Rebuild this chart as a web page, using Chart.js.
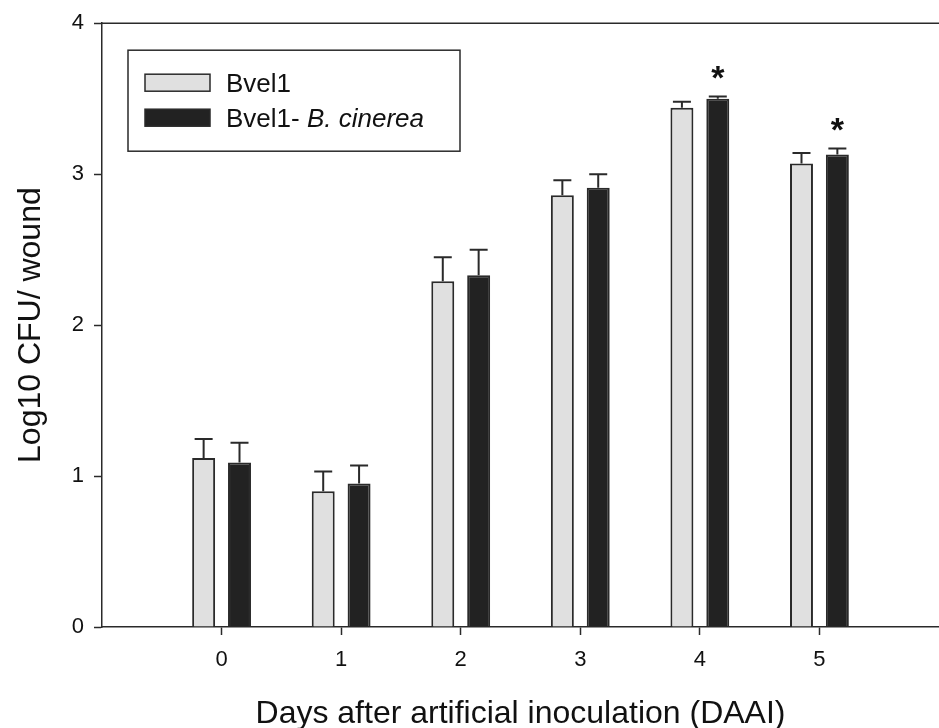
<!DOCTYPE html>
<html>
<head>
<meta charset="utf-8">
<title>Log10 CFU per wound</title>
<script src="https://cdn.jsdelivr.net/npm/chart.js@4/dist/chart.umd.min.js"></script>
<style>
  html, body { margin: 0; padding: 0; background: #fff; overflow: hidden; }
  canvas { display: block; }
</style>
</head>
<body>
<canvas id="barChart" width="939" height="728"></canvas>
<script>
// days after artificial inoculation
let days = ['0', '1', '2', '3', '4', '5'];
// log10 CFU / wound
let bvel1 = [1.12, 0.90, 2.29, 2.86, 3.44, 3.07];
let bvel1Err = [0.125, 0.13, 0.16, 0.10, 0.04, 0.07];
let bvel1Bc = [1.09, 0.95, 2.33, 2.91, 3.50, 3.13];
let bvel1BcErr = [0.13, 0.12, 0.17, 0.09, 0.015, 0.04];
// asterisks over the Bvel1- B. cinerea bars
let significant = [false, false, false, false, true, true];
let yTicks = [0, 1, 2, 3, 4];
// legend names, second part drawn in italics
let seriesNames = ['Bvel1', 'Bvel1- '];
let seriesItalic = ['', 'B. cinerea'];

let FONT = '"Liberation Sans", Arial, Helvetica, sans-serif';
Chart.defaults.font.family = FONT;
Chart.defaults.font.size = 22;
Chart.defaults.color = '#111';

// empty slot on each side of the days, like the original axis
let labels = [''].concat(days, ['']);
let pad = arr => [null].concat(arr, [null]);

let errorBars = {
    id: 'errorBars',
    afterDatasetsDraw(chart) {
        let ctx = chart.ctx;
        let yScale = chart.scales.y;
        ctx.save();
        ctx.strokeStyle = '#2a2a2a';
        ctx.lineWidth = 2;
        chart.data.datasets.forEach((ds, i) => {
            chart.getDatasetMeta(i).data.forEach((bar, j) => {
                let v = ds.data[j];
                if (v == null) return;
                let top = yScale.getPixelForValue(v + ds.errors[j]);
                ctx.beginPath();
                ctx.moveTo(bar.x, bar.y);
                ctx.lineTo(bar.x, top);
                ctx.moveTo(bar.x - 9, top);
                ctx.lineTo(bar.x + 9, top);
                ctx.stroke();
                if (ds.stars && ds.stars[j]) {
                    ctx.fillStyle = '#111';
                    ctx.font = 'bold 34px ' + FONT;
                    ctx.textAlign = 'center';
                    ctx.textBaseline = 'alphabetic';
                    ctx.fillText('*', bar.x, top - 7);
                }
            });
        });
        ctx.restore();
    }
};

// boxed legend inside the plot + top frame line
let boxLegend = {
    id: 'boxLegend',
    afterDraw(chart) {
        let ctx = chart.ctx;
        let area = chart.chartArea;
        ctx.save();
        ctx.strokeStyle = '#2a2a2a';
        ctx.lineWidth = 1.5;
        ctx.beginPath();
        ctx.moveTo(area.left, area.top);
        ctx.lineTo(area.right, area.top);
        ctx.stroke();

        let x0 = area.left + 26, y0 = area.top + 27;
        ctx.strokeRect(x0, y0, 332, 101);
        let font = '26px ' + FONT;
        chart.data.datasets.forEach((ds, i) => {
            let rowY = y0 + 24 + i * 35;
            ctx.fillStyle = ds.backgroundColor;
            ctx.fillRect(x0 + 17, rowY, 65, 17);
            ctx.strokeRect(x0 + 17, rowY, 65, 17);
            let tx = x0 + 98;
            ctx.fillStyle = '#111';
            ctx.textAlign = 'left';
            ctx.textBaseline = 'alphabetic';
            ctx.font = font;
            ctx.fillText(seriesNames[i], tx, rowY + 18);
            if (seriesItalic[i]) {
                tx += ctx.measureText(seriesNames[i]).width;
                ctx.font = 'italic ' + font;
                ctx.fillText(seriesItalic[i], tx, rowY + 18);
            }
        });
        ctx.restore();
    }
};

let ctx = document.getElementById('barChart').getContext('2d');

let barChart = new Chart(ctx, {
    type: 'bar',
    data: {
        labels: labels,
        datasets: [
            {
                label: seriesNames[0] + seriesItalic[0],
                data: pad(bvel1),
                errors: pad(bvel1Err),
                backgroundColor: '#e0e0e0',
                borderColor: '#2a2a2a',
                borderWidth: 2
            },
            {
                label: seriesNames[1] + seriesItalic[1],
                data: pad(bvel1Bc),
                errors: pad(bvel1BcErr),
                stars: pad(significant),
                backgroundColor: '#222',
                borderColor: '#2a2a2a',
                borderWidth: 2
            }
        ]
    },
    options: {
        responsive: false,
        animation: false,
        categoryPercentage: 0.6,
        barPercentage: 0.64,
        layout: { padding: { top: 23, left: 0, right: 0, bottom: 0 } },
        plugins: {
            legend: { display: false },
            tooltip: { enabled: false }
        },
        scales: {
            x: {
                offset: false,
                grid: {
                    offset: false,
                    drawOnChartArea: false,
                    tickLength: 8,
                    tickWidth: 1.5,
                    tickColor: c => (c.index === 0 || c.index === labels.length - 1) ? 'rgba(0,0,0,0)' : '#2a2a2a'
                },
                border: { color: '#2a2a2a', width: 1.5 },
                ticks: { font: { size: 22 }, padding: 12, maxRotation: 0, autoSkip: false },
                title: {
                    display: true,
                    text: 'Days after artificial inoculation (DAAI)',
                    font: { size: 32, lineHeight: 1 },
                    padding: { top: 0, bottom: -2 }
                },
                afterFit: s => { s.height = 101; s.paddingLeft = 0; s.paddingRight = 0; }
            },
            y: {
                min: 0,
                max: 4,
                afterBuildTicks: s => { s.ticks = yTicks.map(v => ({ value: v })); },
                grid: { drawOnChartArea: false, tickLength: 8, tickWidth: 1.5, tickColor: '#2a2a2a' },
                border: { color: '#2a2a2a', width: 1.5 },
                ticks: { font: { size: 22 }, padding: 10 },
                title: {
                    display: true,
                    text: 'Log10 CFU/ wound',
                    font: { size: 32, lineHeight: 1 },
                    padding: { top: 15, bottom: 0 }
                },
                afterFit: s => { s.width = 102; }
            }
        }
    },
    plugins: [errorBars, boxLegend]
});
</script>
</body>
</html>
